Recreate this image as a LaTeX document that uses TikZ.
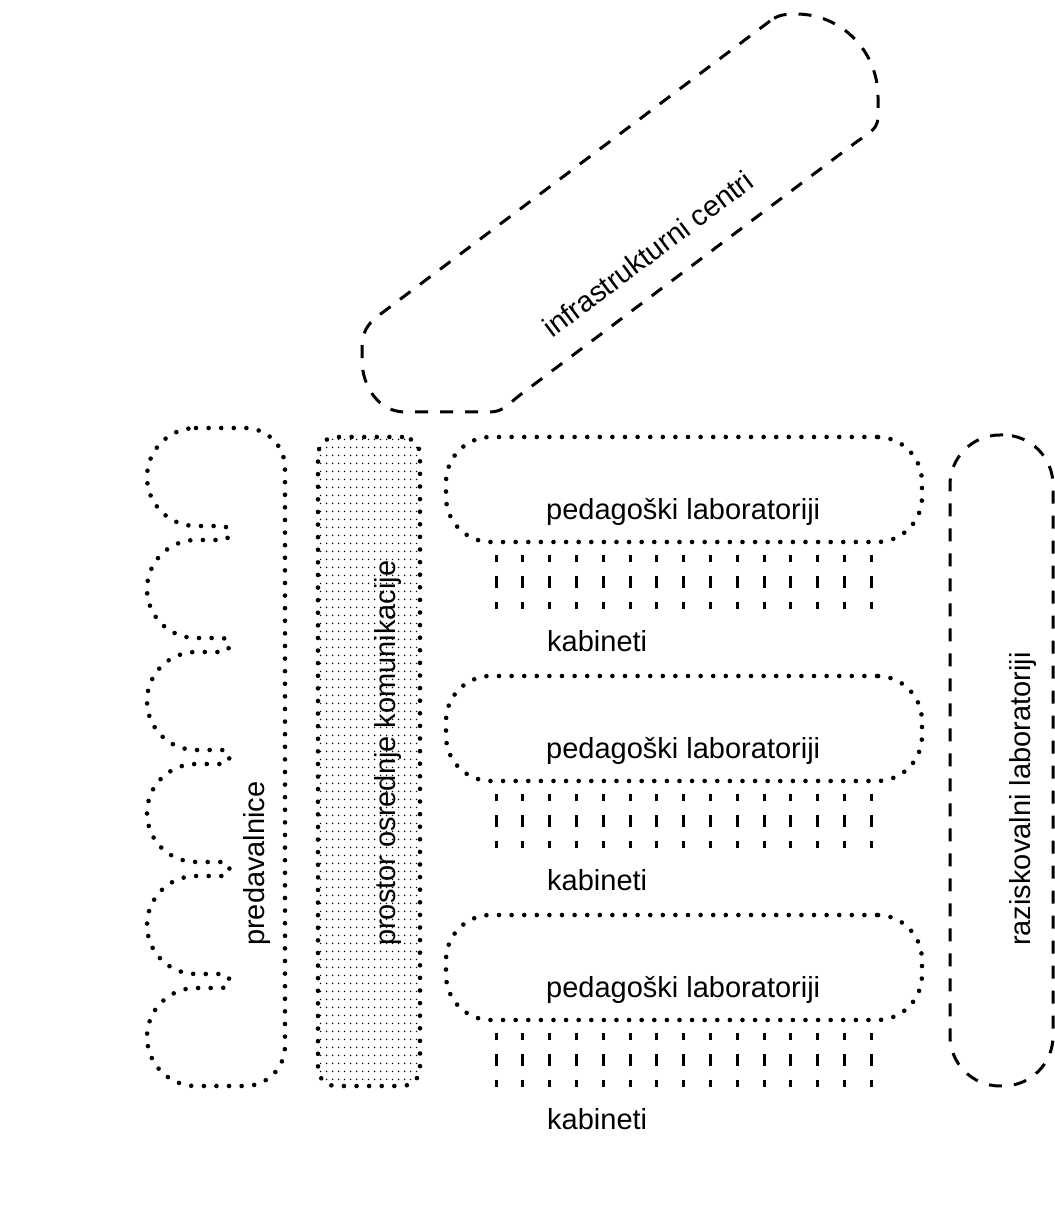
\documentclass[tikz,border=0pt]{standalone}
\usepackage{fontspec}
\setmainfont{Liberation Sans}
\usetikzlibrary{patterns}
% fine dot fill for the central communication space
\pgfdeclarepatternformonly{finedots}{\pgfqpoint{0pt}{0pt}}{\pgfqpoint{6pt}{8pt}}{\pgfqpoint{6pt}{8pt}}{%
  \pgfpathcircle{\pgfqpoint{3pt}{4pt}}{0.95pt}\pgfusepath{fill}}
\tikzset{
  dotline/.style={line width=4.6pt, dash pattern=on 0pt off 12.6pt, line cap=round},
  dashline/.style={line width=3pt, dash pattern=on 13pt off 12pt},
  cabline/.style={line width=3pt, dash pattern=on 7pt off 14pt on 12pt off 14pt on 7pt off 200pt},
  lbl/.style={inner sep=0pt, font=\fontsize{29}{35}\selectfont},
  labbox/.style={draw, dotline, minimum width=476pt, minimum height=105pt, rounded corners=45pt, inner sep=0pt},
}
\begin{document}
\begin{tikzpicture}[x=1pt,y=1pt]
\useasboundingbox (0,0) rectangle (1055,1211);

% lecture halls: straight right side, scalloped left side
\draw[dotline] (196,783) -- (245,783) arc[start angle=90,end angle=0,radius=40]
  -- (285,165) arc[start angle=0,end angle=-90,radius=40] -- (196,125)
  arc[start angle=270,end angle=90,radius=49] -- (222,223) .. controls (232,223) and (232,237) .. (222,237) -- (196,237)
  arc[start angle=270,end angle=90,radius=49] -- (222,335) .. controls (232,335) and (232,349) .. (222,349) -- (196,349)
  arc[start angle=270,end angle=90,radius=49] -- (222,447) .. controls (232,447) and (232,461) .. (222,461) -- (196,461)
  arc[start angle=270,end angle=90,radius=49] -- (222,559) .. controls (232,559) and (232,573) .. (222,573) -- (196,573)
  arc[start angle=270,end angle=90,radius=49] -- (222,671) .. controls (232,671) and (232,685) .. (222,685) -- (196,685)
  arc[start angle=270,end angle=90,radius=49] -- cycle;
\node[lbl, rotate=90, anchor=base west] (lecturetxt) at (264,265) {predavalnice};

% central communication space
\node[draw, dotline, pattern=finedots, rounded corners=18pt, minimum width=102pt,
      minimum height=649pt, inner sep=0pt] (core) at (369,449.5) {};
\node[lbl, rotate=90, anchor=base west] (coretxt) at (395,265) {prostor osrednje komunikacije};

% teaching labs with their rows of offices
\foreach \n/\cy/\by/\ky/\dy in {1/721.5/691/559/656, 2/482.5/452/320/417, 3/243.5/213/81/178}{
  \node[labbox] (lab\n) at (684,\cy) {};
  \node[lbl, anchor=base west] (labtxt\n) at (546,\by) {pedagoški laboratoriji};
  \foreach \k in {0,...,14}{
    \draw[cabline] ({496+26.8*\k},\dy) -- ++(0,-54);
  }
  \node[lbl, anchor=base west] (cabtxt\n) at (547,\ky) {kabineti};
}

% research labs
\node[draw, dashline, rounded corners=50pt, minimum width=103pt, minimum height=651pt,
      inner sep=0pt] (research) at (1001.5,450.5) {};
\node[lbl, rotate=90, anchor=base west] (researchtxt) at (1030,265) {raziskovalni laboratoriji};

% infrastructure centres
\draw[dashline] (770,1190) -- (378,895) to[out=217,in=90] (362,864) -- (362,851)
  to[out=270,in=180] (405,799) -- (490,799) to[out=0,in=217] (520,816)
  -- (855,1068) to[out=37,in=270] (878,1094) -- (878,1114)
  to[out=90,in=0] (796,1197) to[out=180,in=37] (770,1190) -- cycle;
\node[lbl, rotate=37, anchor=base west] (infratxt) at (552,872) {infrastrukturni centri};
\end{tikzpicture}
\end{document}
